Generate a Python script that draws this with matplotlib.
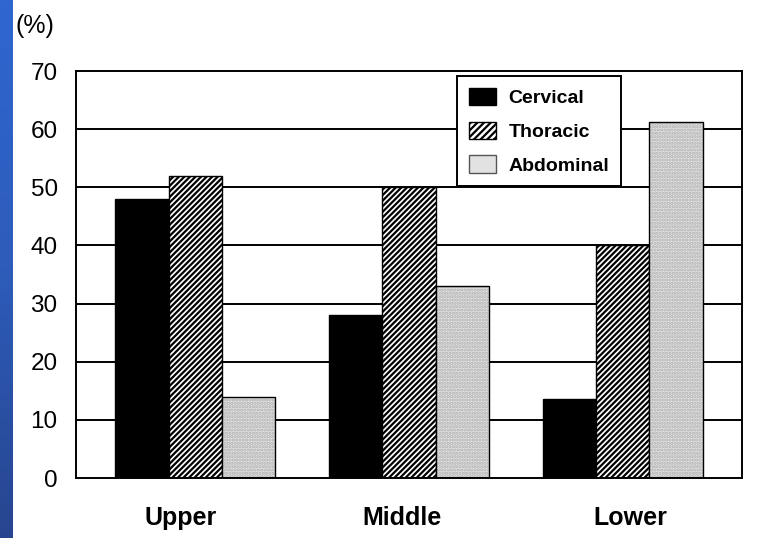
import numpy as np
import matplotlib
matplotlib.use("Agg")
import matplotlib.pyplot as plt
import matplotlib.transforms as mtransforms
from matplotlib.patches import Patch

# data
categories = ["Upper", "Middle", "Lower"]
series_names = ["Cervical", "Thoracic", "Abdominal"]
cervical = [48, 28, 13.6]
thoracic = [52, 50, 40]
abdominal = [14, 33, 61.3]
y_ticks = [0, 10, 20, 30, 40, 50, 60, 70]

plt.rcParams['font.family'] = ['Liberation Sans', 'DejaVu Sans']
plt.rcParams['hatch.linewidth'] = 1.6

fig = plt.figure(figsize=(7.57, 5.38), dpi=100)
fig.patch.set_facecolor('white')

# blue strip on the left edge
strip = fig.add_axes([0, 0, 0.0168, 1])
grad = np.linspace(0, 1, 256).reshape(-1, 1)
cmap = matplotlib.colors.LinearSegmentedColormap.from_list(
    'strip', ['#2f66d0', '#2d5cba', '#27458f'])
strip.imshow(grad, aspect='auto', cmap=cmap, origin='upper')
strip.set_axis_off()

ax = fig.add_axes([0.1, 0.1115, 0.8806, 0.7565])

x = np.arange(len(categories))
w = 0.25

# grid lines behind the bars
for t in y_ticks[1:-1]:
    ax.axhline(t, color='black', lw=1.4, zorder=0)

ax.bar(x - w, cervical, w, color='black', edgecolor='black', lw=1, zorder=2)
ax.bar(x, thoracic, w, color='white', edgecolor='black', hatch='//////', lw=1, zorder=2)
ax.bar(x + w, abdominal, w, color='#e2e2e2', edgecolor='#b0b0b0', hatch='.....', lw=0, zorder=2)
ax.bar(x + w, abdominal, w, color='none', edgecolor='black', lw=1, zorder=3)

ax.set_xlim(-0.56, 2.56)
ax.set_ylim(0, 70)
ax.set_yticks(y_ticks)
ax.set_yticklabels([str(t) for t in y_ticks], fontsize=17.5)
ax.set_xticks(x)
ax.set_xticklabels(categories, fontsize=18, fontweight='bold')
ax.tick_params(axis='both', length=0)
ax.tick_params(axis='y', pad=13)
ax.tick_params(axis='x', pad=20)
for s in ax.spines.values():
    s.set_linewidth(1.4)

# category labels sit slightly off the group centres in the original
for lbl, dx in zip(ax.get_xticklabels(), [-15, -7, 8]):
    lbl.set_transform(lbl.get_transform() +
                      mtransforms.ScaledTranslation(dx / 100, 0, fig.dpi_scale_trans))

handles = [
    Patch(facecolor='black', edgecolor='black'),
    Patch(facecolor='white', edgecolor='black', hatch='/////'),
    Patch(facecolor='#e2e2e2', edgecolor='#555555'),
]
leg = ax.legend(handles, series_names, loc='upper left',
                bbox_to_anchor=(0.572, 0.988), borderaxespad=0,
                fancybox=False, framealpha=1, edgecolor='black',
                prop={'weight': 'bold', 'size': 14},
                handlelength=1.4, handleheight=1.0, labelspacing=0.75,
                borderpad=0.6, handletextpad=0.65)
leg.get_frame().set_linewidth(1.4)

fig.text(0.02, 0.93, "(%)", fontsize=18, ha='left', va='bottom')

fig.savefig("out.png", dpi=100)
